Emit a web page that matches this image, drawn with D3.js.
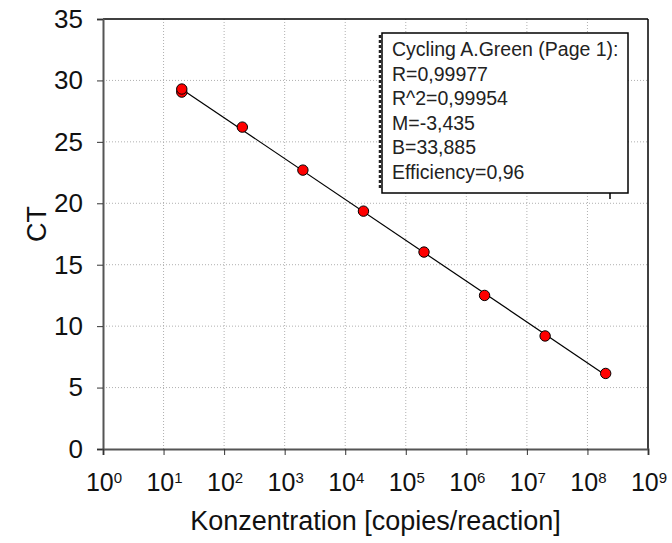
<!DOCTYPE html>
<html>
<head>
<meta charset="utf-8">
<script src="https://cdn.jsdelivr.net/npm/d3@7"></script>
<style>
  body { margin: 0; background: #fff; }
  svg text { font-family: "Liberation Sans", Arial, sans-serif; }
</style>
</head>
<body>
<div class="chart"></div>
<script>
// values
const concentrations = [20, 20, 200, 2000, 20000, 200000, 2000000, 20000000, 200000000];
const ctValues = [29.05, 29.3, 26.2, 22.7, 19.36, 16.03, 12.5, 9.2, 6.15];
const yTicks = [0, 5, 10, 15, 20, 25, 30, 35];
const xExponents = [0, 1, 2, 3, 4, 5, 6, 7, 8, 9];
const legendLines = [
  "Cycling A.Green (Page 1):",
  "R=0,99977",
  "R^2=0,99954",
  "M=-3,435",
  "B=33,885",
  "Efficiency=0,96"
];

const wdth = 672, hght = 543;
const margin = {top: 19, right: 24, bottom: 94, left: 103};

const svg = d3.select(".chart")
  .append("svg")
  .attr("width", wdth)
  .attr("height", hght);

const x = d3.scaleLog()
  .domain([1, 1e9])
  .range([margin.left, wdth - margin.right]);

const y = d3.scaleLinear()
  .domain([0, 35])
  .range([hght - margin.bottom, margin.top]);

const x0 = x.range()[0], x1 = x.range()[1];
const y0 = y.range()[0], y1 = y.range()[1];

// grid lines
const grid = svg.append("g");
grid.selectAll("line.vg")
  .data(xExponents.slice(1, -1))
  .enter().append("line")
  .attr("x1", d => x(Math.pow(10, d))).attr("x2", d => x(Math.pow(10, d)))
  .attr("y1", y1).attr("y2", y0)
  .attr("stroke", "#b0b0b0").attr("stroke-dasharray", "1,2");
grid.selectAll("line.hg")
  .data(yTicks.slice(1, -1))
  .enter().append("line")
  .attr("x1", x0).attr("x2", x1)
  .attr("y1", d => y(d)).attr("y2", d => y(d))
  .attr("stroke", "#b0b0b0").attr("stroke-dasharray", "1,2");

// frame: top and right black
svg.append("line").attr("x1", x0).attr("x2", x1).attr("y1", y1).attr("y2", y1)
  .attr("stroke", "#000").attr("stroke-width", 1.5);
svg.append("line").attr("x1", x1).attr("x2", x1).attr("y1", y1).attr("y2", y0)
  .attr("stroke", "#000").attr("stroke-width", 1.5);

// y axis
const yAxis = svg.append("g")
  .attr("transform", `translate(${x0},0)`)
  .call(d3.axisLeft(y).tickValues(yTicks).tickSize(6).tickPadding(14));
yAxis.select(".domain").attr("stroke", "#555").attr("stroke-width", 2);
yAxis.selectAll(".tick line").attr("stroke", "#333");
yAxis.selectAll(".tick text")
  .attr("font-size", 26).attr("fill", "#111")
  .attr("font-family", "Liberation Sans, Arial, sans-serif");

// x axis
const xAxis = svg.append("g")
  .attr("transform", `translate(0,${y0})`)
  .call(d3.axisBottom(x).tickValues(xExponents.map(e => Math.pow(10, e))).tickSize(6).tickFormat(""));
xAxis.select(".domain").attr("stroke", "#555").attr("stroke-width", 2);
xAxis.selectAll(".tick line").attr("stroke", "#333");

const xLab = svg.append("g").selectAll("text")
  .data(xExponents)
  .enter().append("text")
  .attr("x", d => x(Math.pow(10, d)) + 1)
  .attr("y", y0 + 42)
  .attr("text-anchor", "middle")
  .attr("font-size", 25)
  .attr("fill", "#111");
xLab.append("tspan").text("10");
xLab.append("tspan").attr("dy", -8).attr("font-size", 15).text(d => d);

// axis titles
svg.append("text")
  .attr("x", (x0 + x1) / 2)
  .attr("y", 530)
  .attr("text-anchor", "middle")
  .attr("font-size", 27)
  .attr("fill", "#111")
  .text("Konzentration [copies/reaction]");

svg.append("text")
  .attr("transform", `translate(46,${(y0 + y1) / 2 - 10}) rotate(-90)`)
  .attr("text-anchor", "middle")
  .attr("font-size", 27)
  .attr("fill", "#111")
  .text("CT");

// regression line through the points (least squares on log10)
const lx = concentrations.map(c => Math.log10(c));
const mx = d3.mean(lx), my = d3.mean(ctValues);
const slope = d3.sum(lx, (d, i) => (d - mx) * (ctValues[i] - my)) / d3.sum(lx, d => (d - mx) * (d - mx));
const icpt = my - slope * mx;
const ends = d3.extent(concentrations);
svg.append("path")
  .datum(ends)
  .attr("fill", "none")
  .attr("stroke", "#000")
  .attr("stroke-width", 1.2)
  .attr("d", d3.line()
    .x(d => x(d))
    .y(d => y(slope * Math.log10(d) + icpt)));

// points
svg.append("g").selectAll("circle")
  .data(concentrations)
  .enter().append("circle")
  .attr("cx", d => x(d))
  .attr("cy", (d, i) => y(ctValues[i]))
  .attr("r", 5.2)
  .attr("fill", "#ff0000")
  .attr("stroke", "#000")
  .attr("stroke-width", 1);

// legend box
const lg = svg.append("g").attr("transform", "translate(382,33)");
lg.append("rect")
  .attr("width", 246).attr("height", 160)
  .attr("fill", "#fff").attr("stroke", "#000").attr("stroke-width", 1.5);
lg.append("line")
  .attr("x1", -2).attr("x2", -2).attr("y1", 2).attr("y2", 157)
  .attr("stroke", "#222").attr("stroke-width", 2.5).attr("stroke-dasharray", "3,2");
lg.append("line")
  .attr("x1", 228).attr("x2", 228).attr("y1", 160).attr("y2", 166)
  .attr("stroke", "#000").attr("stroke-width", 1.5);
lg.selectAll("text")
  .data(legendLines)
  .enter().append("text")
  .attr("x", 10)
  .attr("y", (d, i) => 23 + i * 24.6)
  .attr("font-size", 19.5)
  .attr("fill", "#222")
  .text(d => d);
</script>
</body>
</html>
